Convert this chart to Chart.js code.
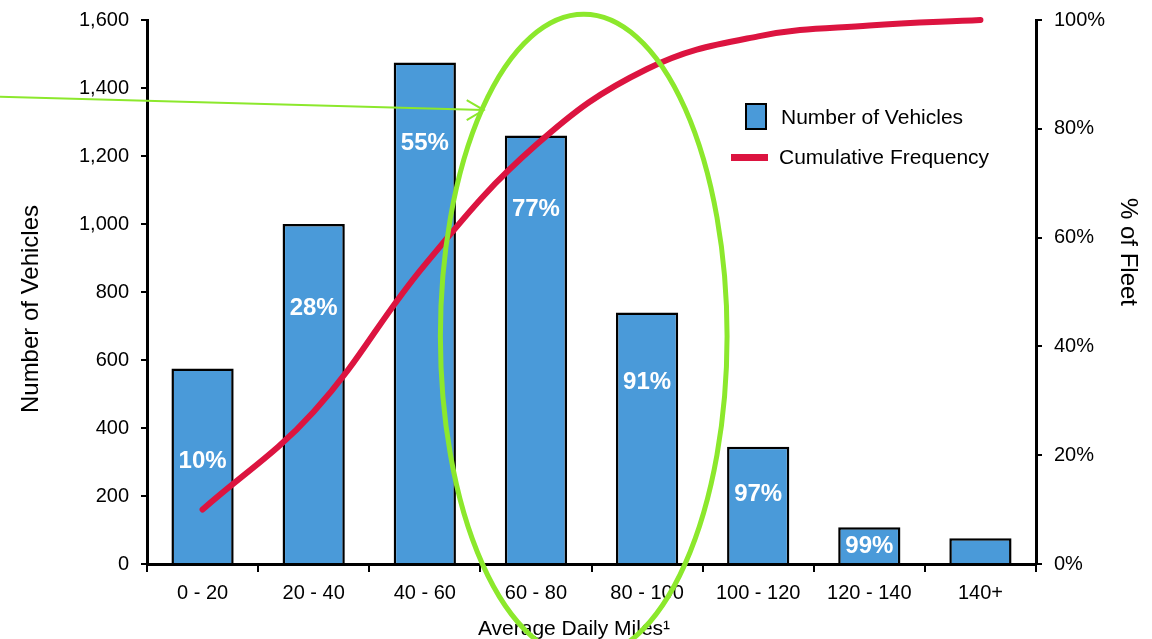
<!DOCTYPE html>
<html>
<head>
<meta charset="utf-8">
<script src="https://cdn.jsdelivr.net/npm/chart.js@4/dist/chart.umd.min.js"></script>
<style>
  html, body { margin: 0; padding: 0; background: #fff; }
  #wrap { width: 1152px; height: 639px; position: relative; }
</style>
</head>
<body>
<div id="wrap"><canvas id="chart"></canvas></div>
<script>
const categories = ["0 - 20", "20 - 40", "40 - 60", "60 - 80", "80 - 100", "100 - 120", "120 - 140", "140+"];
const vehicleCounts = [575, 1000, 1475, 1260, 740, 345, 108, 76];
const cumulativeShare = [0.10, 0.28, 0.55, 0.77, 0.91, 0.97, 0.99, 1.00];
const shareLabels = ["10%", "28%", "55%", "77%", "91%", "97%", "99%", ""];
// where each percentage label sits, in vehicle-count units
const labelLevels = [306, 756, 1241, 1047, 538, 209, 56, null];

const FONT = "'Liberation Sans', Arial, Helvetica, sans-serif";
const BLUE = "#4a9ad9";
const RED = "#dc1440";
const GREEN = "#8ce82c";

// extra marks drawn on top: labels, titles, legend, highlight ring and arrow
const overlay = {
  id: "overlay",
  afterDatasetsDraw(chart) {
    const ctx = chart.ctx;
    const x = chart.scales.x;
    const y = chart.scales.y;

    ctx.save();
    ctx.fillStyle = "#fff";
    ctx.font = "bold 24px " + FONT;
    ctx.textAlign = "center";
    ctx.textBaseline = "middle";
    shareLabels.forEach((t, i) => {
      if (!t) return;
      ctx.fillText(t, x.getPixelForValue(i), y.getPixelForValue(labelLevels[i]) + 1);
    });
    ctx.restore();
  },
  afterDraw(chart) {
    const ctx = chart.ctx;
    const x = chart.scales.x;
    const y = chart.scales.y;

    ctx.save();
    ctx.fillStyle = "#000";
    ctx.textBaseline = "middle";
    ctx.textAlign = "center";

    // axis titles
    ctx.font = "24px " + FONT;
    ctx.save();
    ctx.translate(31, 309);
    ctx.rotate(-Math.PI / 2);
    ctx.fillText("Number of Vehicles", 0, 0);
    ctx.restore();

    ctx.save();
    ctx.translate(1128, 252);
    ctx.rotate(Math.PI / 2);
    ctx.fillText("% of Fleet", 0, 0);
    ctx.restore();

    ctx.font = "21px " + FONT;
    ctx.fillText("Average Daily Miles\u00b9", 574, 629);

    // legend
    ctx.fillStyle = BLUE;
    ctx.fillRect(746, 104, 20, 25);
    ctx.strokeStyle = "#000";
    ctx.lineWidth = 2;
    ctx.strokeRect(746, 104, 20, 25);
    ctx.fillStyle = RED;
    ctx.fillRect(731, 154, 37, 7);
    ctx.fillStyle = "#000";
    ctx.textAlign = "left";
    ctx.font = "21px " + FONT;
    ctx.fillText("Number of Vehicles", 781, 118);
    ctx.fillText("Cumulative Frequency", 779, 158);

    // green highlight ellipse
    const cx = x.getPixelForValue(3.43);
    const cy = y.getPixelForValue(670);
    const rx = x.getPixelForValue(3.43) - x.getPixelForValue(2.14);
    const ry = y.getPixelForValue(0) - y.getPixelForValue(947);
    ctx.strokeStyle = GREEN;
    ctx.lineWidth = 5;
    ctx.beginPath();
    ctx.ellipse(cx, cy, rx, ry, 0, 0, Math.PI * 2);
    ctx.stroke();

    // green arrow
    const x0 = x.getPixelForValue(-1.83), y0 = y.getPixelForValue(1374);
    const x1 = x.getPixelForValue(2.53), y1 = y.getPixelForValue(1335);
    ctx.lineWidth = 2;
    ctx.beginPath();
    ctx.moveTo(x0, y0);
    ctx.lineTo(x1, y1);
    ctx.moveTo(x1 - 17, y1 - 10);
    ctx.lineTo(x1, y1);
    ctx.lineTo(x1 - 17, y1 + 10);
    ctx.stroke();
    ctx.restore();
  }
};

new Chart(document.getElementById("chart"), {
  type: "bar",
  data: {
    labels: categories,
    datasets: [
      {
        type: "line",
        label: "Cumulative Frequency",
        data: cumulativeShare,
        yAxisID: "y1",
        borderColor: RED,
        borderWidth: 6,
        borderCapStyle: "round",
        tension: 0.4,
        pointRadius: 0,
        clip: false,
        order: 0,
      },
      {
        label: "Number of Vehicles",
        data: vehicleCounts,
        yAxisID: "y",
        backgroundColor: BLUE,
        borderColor: "#000",
        borderWidth: 2.5,
        categoryPercentage: 1,
        barPercentage: 0.56,
        order: 1,
      },
    ],
  },
  options: {
    responsive: true,
    maintainAspectRatio: false,
    animation: false,
    layout: { padding: { top: 20, left: 0, right: 0, bottom: 0 } },
    plugins: {
      legend: { display: false },
      tooltip: { enabled: false },
    },
    scales: {
      x: {
        offset: true,
        grid: { offset: true, drawOnChartArea: false, drawTicks: true, tickLength: 8, color: "#000", lineWidth: 2 },
        border: { color: "#000", width: 3 },
        ticks: { color: "#000", font: { family: FONT, size: 20 }, padding: 9, maxRotation: 0 },
        afterFit: (s) => { s.height = 75; },
      },
      y: {
        position: "left",
        min: 0,
        max: 1600,
        grid: { drawOnChartArea: false, drawTicks: true, tickLength: 6, color: "#000", lineWidth: 2 },
        border: { color: "#000", width: 3 },
        ticks: {
          stepSize: 200,
          color: "#000",
          font: { family: FONT, size: 20 },
          padding: 12,
          callback: (v) => v.toLocaleString("en-US"),
        },
        afterFit: (s) => { s.width = 147; s.paddingTop = 0; s.paddingBottom = 0; },
      },
      y1: {
        position: "right",
        min: 0,
        max: 1,
        grid: { drawOnChartArea: false, drawTicks: true, tickLength: 6, color: "#000", lineWidth: 2 },
        border: { color: "#000", width: 3 },
        ticks: {
          stepSize: 0.2,
          color: "#000",
          font: { family: FONT, size: 20 },
          padding: 12,
          callback: (v) => Math.round(v * 100) + "%",
        },
        afterFit: (s) => { s.width = 116; s.paddingTop = 0; s.paddingBottom = 0; },
      },
    },
  },
  plugins: [overlay],
});
</script>
</body>
</html>
